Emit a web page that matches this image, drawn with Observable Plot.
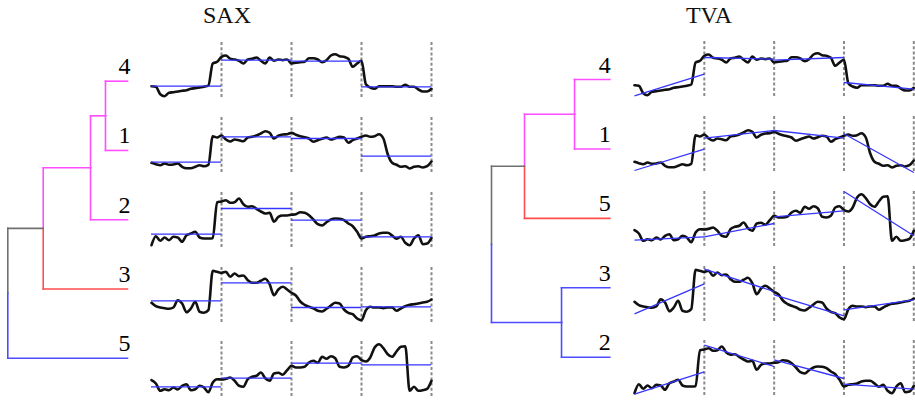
<!DOCTYPE html>
<html><head><meta charset="utf-8">
<script src="https://cdn.jsdelivr.net/npm/d3@7"></script>
<script src="https://cdn.jsdelivr.net/npm/@observablehq/plot@0.6"></script>
<style>
body{margin:0;background:#fff;}
#root{position:relative;width:915px;height:400px;overflow:hidden;background:#fff;font-family:"Liberation Serif","DejaVu Serif",serif;}
.title{position:absolute;font-size:24px;line-height:24px;width:120px;text-align:center;color:#111;font-family:"Liberation Serif","DejaVu Serif",serif;}
</style></head><body><div id="root"></div>
<script>
// ---------- data ----------
const titles = ["SAX", "TVA"];
const stepsPerSegment = 16;

const series1 = [10.7,9.3,8.3,10,8.7,9,10,6.7,5.3,5.3,6.7,8.3,7.3,8.7,37.3,36,38,34,32,34,33.3,32.3,36,36.7,38,40,42.3,40.7,35,37.7,39,39.3,40.7,38.7,37.3,36.3,35,31.7,33.3,34.7,36,34,35.3,36.7,36,30.7,33.3,35,36.7,38,36.7,37.3,39.3,35,19.3,10.7,8.7,6.7,7.3,5,6.7,7.3,6,7.3,12];
const series2 = [3.3,12.3,7.7,11,8.3,11.7,11,6.7,13.3,15,16.7,11,10,10,10.3,46.3,47,48.3,45.7,46.3,50,44.3,41.7,42.3,39.7,37,35,35.7,26.7,31.7,33,33,33.7,34.3,36.3,35.7,33.3,29,24.3,23,26.3,29,30,29.7,28.3,25,22.3,16.7,10,11.7,12.3,13,15,15.7,15.7,13,9.7,11.7,5.7,3.3,10,13.3,4.3,5,10.7];
const series3 = [20.7,17.3,16,15.3,14.7,16,23.3,20,11.3,15,21.7,11.7,10.7,13.3,52.7,51.7,50.7,51.7,46.7,50,47.3,48,43.3,40.7,40.7,42.7,44.7,39.3,28.3,34,36.7,34,30.7,28,22,18.7,16.7,15.3,12.7,12,14.7,18,20.7,20,14,10.7,9.3,5,3.3,13.3,16.7,16,16,15.3,16,16,12.7,15,17.3,18.7,19.3,20,21,21.7,24];
const series4 = [12.3,11.7,4.3,2.3,5.7,6.3,7,7.7,8.3,9.7,10.3,11,11.7,13,35,36.7,41.7,43,39.7,39,37.7,35,39,39.7,41,37.7,35,41,37.7,39,38.3,39,35,35.7,36.3,36.7,40.3,40.3,39,36.3,38.3,43,44.3,42.3,41.7,39.7,31.7,35,37.7,14.3,11,9.7,12.3,12.3,12.3,12.3,11.7,11.7,13.7,11.7,11.7,9,7,7,9.7];
const series5 = [17.3,14,6.7,8.3,7.3,10,8,11.7,13.3,7.3,8.3,11.7,10,5.3,15,18.3,18,18.7,20,16.7,11.7,10.7,18.3,20.7,21.7,25,19.3,16.7,24,24.7,22.7,27.3,31.7,30,30,30.7,35,36.7,34.7,40.7,38.7,41.3,39.3,30.7,30,31.7,40,41.3,37.3,36,40,50,53.3,49.3,43.3,40.7,46,50.7,51.3,6.7,10.7,6.7,7.3,8.7,16.7];

// SAX: one level per segment
const sax1 = [11.3, 36.7, 35, 17.3];
const sax2 = [14.3, 40, 28.3, 11.7];
const sax3 = [22.7, 40.7, 16, 16.7];
const sax4 = [12.3, 38.3, 37.3, 11.7];
const sax5 = [10.7, 19.3, 34.3, 32.7];

// TVA: start and end value of the trend in each segment
const tva1Start = [2, 34.3, 42, 38.7];   const tva1End = [23.3, 42, 34.3, 0];
const tva2Start = [2.3, 51.3, 36.7, 12.3]; const tva2End = [24.7, 30, 18, 7.3];
const tva3Start = [8.7, 53.3, 27.7, 12.7]; const tva3End = [38.7, 31, 6.7, 22.7];
const tva4Start = [1.7, 40, 37.3, 15];   const tva4End = [23.3, 38.3, 40, 8.3];
const tva5Start = [7.3, 10.7, 30.7, 56];  const tva5End = [10.7, 24, 36.7, 11.7];

const segmentBounds = [1, 2, 3, 4];

// dendrograms
const saxLeaves = ["4", "1", "2", "3", "5"];
const saxMergeA = ["4", "4-1", "4-1-2", "4-1-2-3"];
const saxMergeB = ["1", "2", "3", "5"];
const saxMergeHeight = [0.184, 0.309, 0.704, 1];
const saxClusters = {"4":"A","1":"A","4-1":"A","2":"A","4-1-2":"A","3":"B","5":"C","4-1-2-3":"top"};

const tvaLeaves = ["4", "1", "5", "3", "2"];
const tvaMergeA = ["4", "4-1", "3", "4-1-5"];
const tvaMergeB = ["1", "5", "2", "3-2"];
const tvaMergeHeight = [0.298, 0.721, 0.408, 1];
const tvaClusters = {"4":"A","1":"A","4-1":"A","5":"B","3":"C","2":"C","3-2":"C","4-1-5":"top"};

const clusterNames = ["A", "B", "C", "top"];

// ---------- styles ----------
const clusterColors = ["#ff4dff", "#ff4d4d", "#4d4dff", "#707070"];
const serif = "Liberation Serif, DejaVu Serif, serif";
const root = document.getElementById("root");

const seriesByName = {"1": series1, "2": series2, "3": series3, "4": series4, "5": series5};
const saxByName = {"1": sax1, "2": sax2, "3": sax3, "4": sax4, "5": sax5};
const tvaByName = {
  "1": [tva1Start, tva1End], "2": [tva2Start, tva2End], "3": [tva3Start, tva3End],
  "4": [tva4Start, tva4End], "5": [tva5Start, tva5End]
};

function place(el, left, top) {
  el.style.position = "absolute";
  el.style.left = left + "px";
  el.style.top = top + "px";
  root.appendChild(el);
}

function dendroData(leaves, mergeA, mergeB, heights, clusters) {
  const pos = new Map();
  leaves.forEach((id, i) => pos.set(id, {h: 0, y: i}));
  const segs = [];
  mergeA.forEach((a, k) => {
    const b = mergeB[k], h = heights[k];
    const pa = pos.get(a), pb = pos.get(b);
    const y = (pa.y + pb.y) / 2;
    for (const [id, p] of [[a, pa], [b, pb]]) {
      segs.push({x1: h, y1: y, x2: h, y2: p.y, cluster: clusters[id]});
      segs.push({x1: h, y1: p.y, x2: p.h, y2: p.y, cluster: clusters[id]});
    }
    pos.set(a + "-" + b, {h, y});
  });
  const leafData = leaves.map((id, i) => ({id, h: 0, y: i}));
  return {segs, leafData};
}

function dendro(leaves, mergeA, mergeB, heights, clusters, opts) {
  const {segs, leafData} = dendroData(leaves, mergeA, mergeB, heights, clusters);
  return Plot.plot({
    width: 140, height: 400,
    marginLeft: opts.left, marginRight: opts.right, marginTop: 0, marginBottom: 0,
    x: {domain: [1, 0], axis: null},
    y: {domain: [0, 4], range: [opts.top, opts.bottom], axis: null},
    color: {domain: clusterNames, range: clusterColors},
    marks: [
      Plot.link(segs, {x1: "x1", y1: "y1", x2: "x2", y2: "y2", stroke: "cluster", strokeWidth: 1.6, strokeLinecap: "square"}),
      Plot.text(leafData, {x: "h", y: "y", text: "id", textAnchor: "end", lineAnchor: "bottom",
        dx: opts.dx, dy: -7, fontSize: 24, fontFamily: serif, fill: "#000"})
    ]
  });
}

function panel(name, kind, width, mLeft, mRight) {
  const vals = seriesByName[name];
  const pts = vals.map((v, i) => ({t: i / stepsPerSegment, v}));
  const marks = [
    Plot.ruleX(segmentBounds, {stroke: "#8a8a8a", strokeWidth: 2, strokeDasharray: "3,2.2"})
  ];
  marks.push(Plot.line(pts, {x: "t", y: "v", stroke: "#111", strokeWidth: 2.6, strokeLinejoin: "round", curve: "monotone-x"}));
  if (kind === "sax") {
    const lv = saxByName[name].map((v, k) => ({t0: k, t1: k + 1, v}));
    marks.push(Plot.ruleY(lv, {y: "v", x1: "t0", x2: "t1", stroke: "#3535ff", strokeWidth: 1.3}));
  } else {
    const [st, en] = tvaByName[name];
    const sg = st.map((v, k) => ({t0: k, t1: k + 1, v0: v, v1: en[k]}));
    marks.push(Plot.link(sg, {x1: "t0", x2: "t1", y1: "v0", y2: "v1", stroke: "#3535ff", strokeWidth: 1.3}));
  }
  return Plot.plot({
    width, height: 64,
    marginLeft: mLeft, marginRight: mRight, marginTop: 4, marginBottom: 4,
    x: {domain: [0, 4], axis: null},
    y: {domain: [0, 56], axis: null},
    marks
  });
}

// titles
const t1 = document.createElement("div"); t1.className = "title"; t1.textContent = titles[0];
place(t1, 227 - 60, 3);
const t2 = document.createElement("div"); t2.className = "title"; t2.textContent = titles[1];
place(t2, 709 - 60, 3);

// dendrograms
place(dendro(saxLeaves, saxMergeA, saxMergeB, saxMergeHeight, saxClusters,
  {left: 7.3, right: 13, top: 80.7, bottom: 357.7, dx: 3}), 0, 0);
place(dendro(tvaLeaves, tvaMergeA, tvaMergeB, tvaMergeHeight, tvaClusters,
  {left: 11, right: 10.7, top: 79, bottom: 356.7, dx: 1}), 480, 0);

// panels
saxLeaves.forEach((name, k) => {
  place(panel(name, "sax", 300, 11, 9), 140, 42.4 + 74.75 * k - 4);
});
tvaLeaves.forEach((name, k) => {
  place(panel(name, "tva", 295, 14, 1.7), 620, 41.4 + 74.75 * k - 4);
});
</script></body></html>
